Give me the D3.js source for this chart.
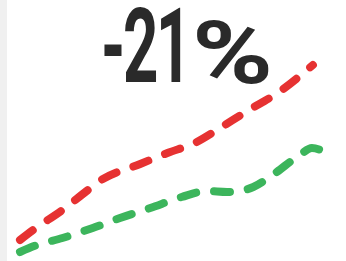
<!DOCTYPE html>
<html>
<head>
<meta charset="utf-8">
<script src="https://cdn.jsdelivr.net/npm/d3@7"></script>
<style>
    html, body { margin: 0; padding: 0; background: #fff; }
    #chart { width: 346px; height: 261px; }
</style>
</head>
<body>
<div id="chart"></div>
<script>
// Data (x: period, y: index value)
const redX = [0, 1.3, 4.2, 6.6, 7.9, 11.9, 14.6, 17.5, 19.5, 22.5, 25.5, 29];
const redY = [7.5, 12.5, 22.5, 32, 37, 45.5, 51, 56.5, 62.5, 72, 81, 95];
const greenX = [0, 1.7, 4.2, 7.2, 9.9, 12.9, 16, 18.5, 20.5, 21.8, 23.1, 25, 27.7, 28.9, 30];
const greenY = [1.5, 5, 8.5, 13.5, 18.5, 23.5, 29, 32, 31.5, 32, 34, 40, 50, 53.5, 52];
const changeLabel = "-21";
const changeUnit = "%";

document.addEventListener("DOMContentLoaded", () => {
    const w = 346, h = 261;
    const svg = d3.select("#chart").append("svg")
        .attr("width", w)
        .attr("height", h);

    // light strip on left edge
    svg.append("rect")
        .attr("x", 0).attr("y", 0)
        .attr("width", 7).attr("height", h)
        .attr("fill", "#f0f0f0");

    const x = d3.scaleLinear().domain([0, 30]).range([20, 323]);
    const y = d3.scaleLinear().domain([0, 100]).range([255, 55]);

    const line = d3.line()
        .x(d => x(d[0]))
        .y(d => y(d[1]))
        .curve(d3.curveMonotoneX);

    const series = [
        { pts: d3.zip(redX, redY), color: "#e63232" },
        { pts: d3.zip(greenX, greenY), color: "#3cb55c" }
    ];

    svg.selectAll("path.series")
        .data(series)
        .enter()
        .append("path")
        .attr("class", "series")
        .attr("d", d => line(d.pts))
        .attr("fill", "none")
        .attr("stroke", d => d.color)
        .attr("stroke-width", 8)
        .attr("stroke-linecap", "round")
        .attr("stroke-dasharray", "16 18");

    // big change label: fit each part into its box (condensed look)
    function fitText(str, size, left, width, baseline, spacing) {
        const t = svg.append("text")
            .attr("font-family", "Roboto, 'Liberation Sans', sans-serif")
            .attr("font-weight", "bold")
            .attr("font-size", size)
            .attr("letter-spacing", spacing)
            .attr("fill", "#2a2a2a")
            .text(str);
        const bb = t.node().getBBox();
        const sx = width / bb.width;
        t.attr("transform", `translate(${left - bb.x * sx},${baseline}) scale(${sx},1)`);
    }
    fitText(changeLabel, 104, 101, 88, 82, -4);
    fitText(changeUnit, 88, 192, 81, 83, 0);
});
</script>
</body>
</html>
